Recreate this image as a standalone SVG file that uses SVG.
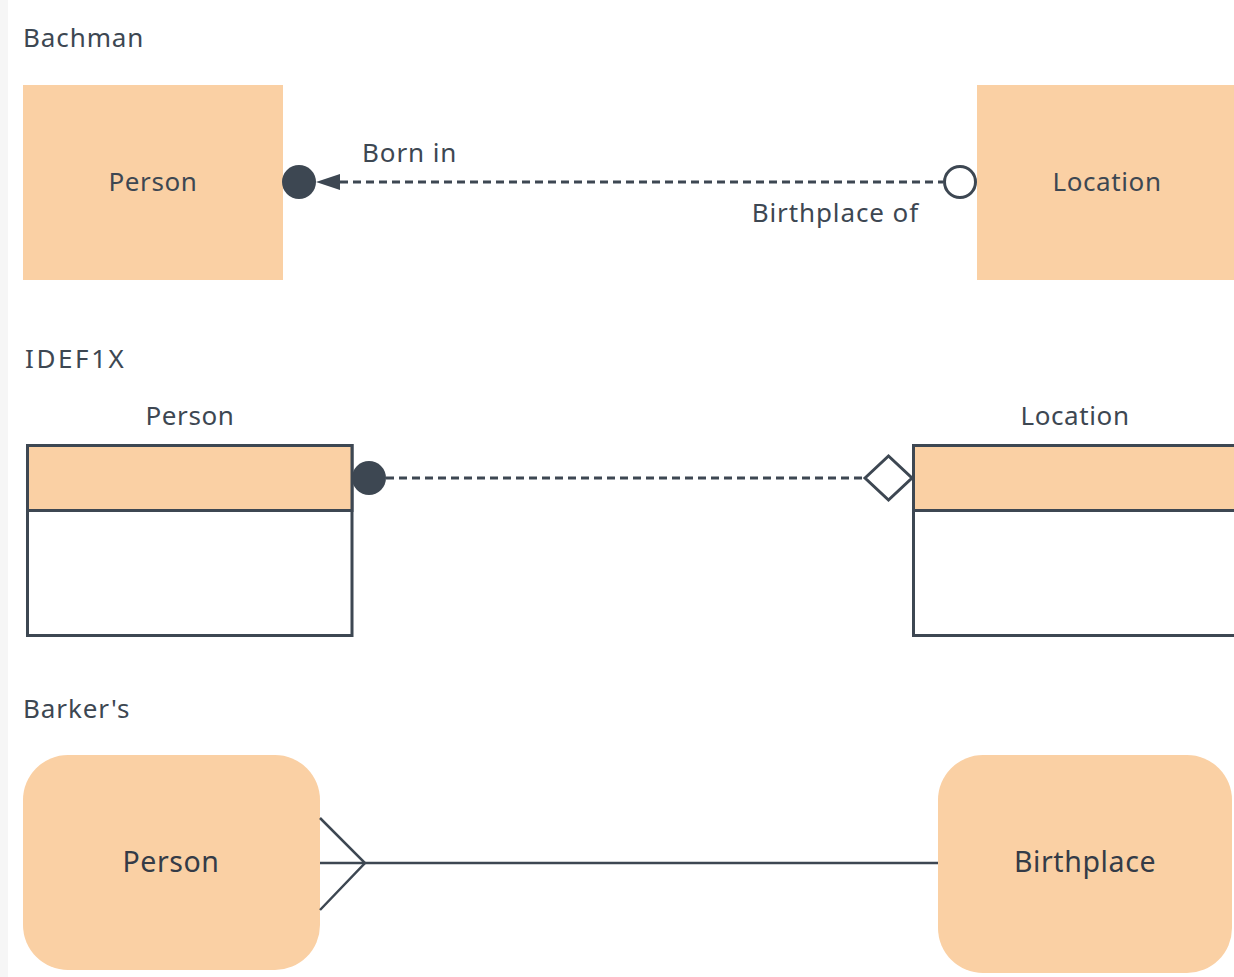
<svg xmlns="http://www.w3.org/2000/svg" width="1234" height="977" viewBox="0 0 1234 977">
<defs>
<style>
.t{font-family:"Noto Sans","Open Sans","Liberation Sans",sans-serif;fill:#3d4752;letter-spacing:0.6px}
.h{font-size:26px;letter-spacing:0.9px}
.n{font-size:26px}
.b{font-size:28.5px;fill:#343b47}
.fill{fill:#fad0a4}
.ent{fill:#fff;stroke:#3d4752;stroke-width:3}
.hdr{fill:#fad0a4;stroke:#3d4752;stroke-width:3}
.dash{fill:none;stroke:#3d4752;stroke-width:3;stroke-dasharray:8 5}
.solid{fill:none;stroke:#3d4752;stroke-width:2.5}
</style>
</defs>
<rect width="1234" height="977" fill="#fff"/>
<rect x="0" y="0" width="8" height="977" fill="#f6f6f6"/>
<text class="t h" x="23" y="47">Bachman</text>
<text class="t h" x="25" y="368" style="letter-spacing:2.6px">IDEF1X</text>
<text class="t h" x="23" y="718">Barker's</text>

<g id="bachman-person">
<rect class="fill" x="23" y="85" width="260" height="195"/>
<text class="t n" x="153" y="191" text-anchor="middle">Person</text>
</g>
<g id="bachman-location">
<rect class="fill" x="977" y="85" width="257" height="195"/>
<text class="t n" x="1107" y="191" text-anchor="middle">Location</text>
</g>
<g id="idef-person">
<text class="t n" x="190" y="425" text-anchor="middle">Person</text>
<rect class="ent" x="27.5" y="445.5" width="324.5" height="190"/>
<rect class="hdr" x="27.5" y="445.5" width="324.5" height="65"/>
</g>
<g id="idef-location">
<text class="t n" x="1075" y="425" text-anchor="middle">Location</text>
<rect class="ent" x="913.5" y="445.5" width="330" height="190"/>
<rect class="hdr" x="913.5" y="445.5" width="330" height="65"/>
</g>
<g id="barker-person">
<rect class="fill" x="23" y="755" width="297" height="215" rx="45"/>
<text class="t b" x="171" y="872" text-anchor="middle">Person</text>
</g>
<g id="barker-birthplace">
<rect class="fill" x="938" y="755" width="294" height="218" rx="45"/>
<text class="t b" x="1085" y="872" text-anchor="middle">Birthplace</text>
</g>

<g id="connectors">
<line class="dash" x1="340" y1="182" x2="943" y2="182"/>
<circle cx="299" cy="182" r="17" fill="#3d4752"/>
<polygon points="316,182 340,174 340,190" fill="#3d4752"/>
<circle cx="960" cy="182" r="15.5" fill="#fff" stroke="#3d4752" stroke-width="3"/>
<text class="t h" x="362" y="162">Born in</text>
<text class="t h" x="919" y="222" text-anchor="end">Birthplace of</text>

<line class="dash" x1="386" y1="478" x2="865" y2="478"/>
<circle cx="369" cy="478" r="17" fill="#3d4752"/>
<polygon points="865,478 888.5,456 912,478 888.5,500" fill="#fff" stroke="#3d4752" stroke-width="3"/>

<line class="solid" x1="320" y1="863" x2="938" y2="863"/>
<polyline class="solid" points="320,818 365,863 320,910"/>
</g>
</svg>
